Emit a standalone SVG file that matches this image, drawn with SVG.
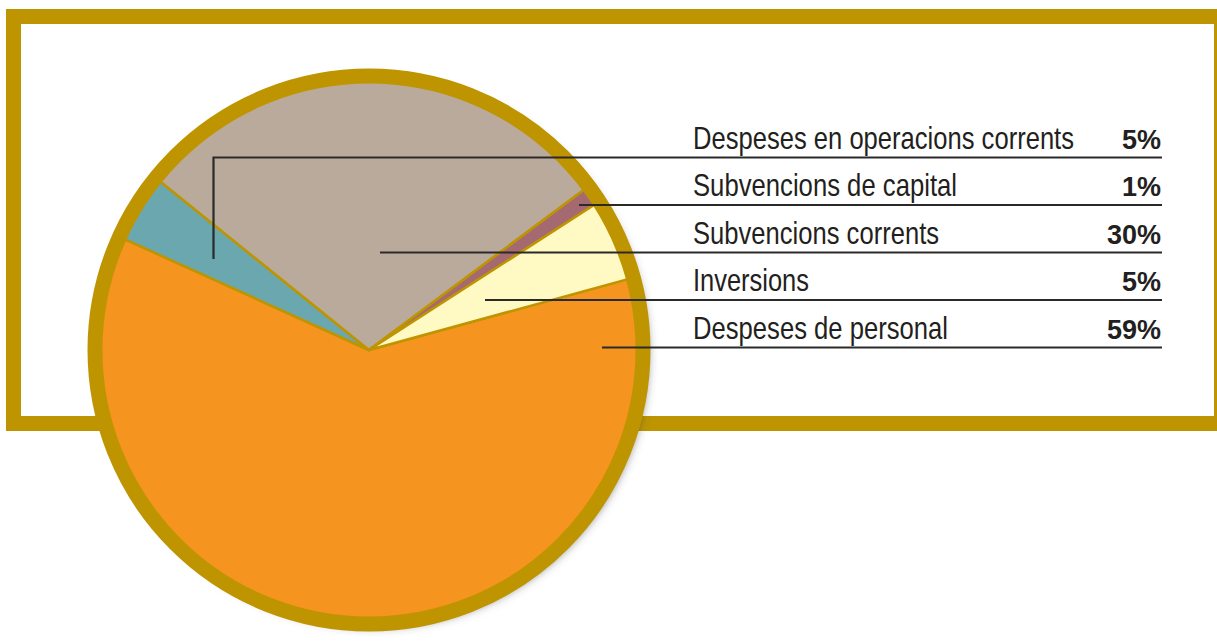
<svg xmlns="http://www.w3.org/2000/svg" width="1217" height="641" viewBox="0 0 1217 641">
<style>
.lbl{font-family:"Liberation Sans","Arial",sans-serif;font-size:30.5px;fill:#231f20;}
.pct{font-family:"Liberation Sans","Arial",sans-serif;font-size:27px;font-weight:bold;fill:#231f20;text-anchor:end;}
.sl{stroke:#BE9500;stroke-width:2.5;stroke-linejoin:round;}
.ld{fill:none;stroke:#2a2a2a;stroke-width:2.2;}
</style>
<defs>
<filter id="sh" x="-10%" y="-10%" width="130%" height="130%">
<feDropShadow dx="6" dy="4" stdDeviation="4" flood-color="#444" flood-opacity="0.55"/>
</filter>
</defs>
<rect width="1217" height="641" fill="#ffffff"/>
<g id="frame">
<path d="M6,9 H1230 V431 H6 Z M21,24 V416 H1214 V24 Z" fill="#BE9500" fill-rule="evenodd"/>
</g>
<g id="pie">
<circle cx="369" cy="350" r="274" fill="#BE9500" filter="url(#sh)"/>
<g id="slice-personal"><path class="sl" fill="#F5941E" d="M369,350 L634.3,277.4 A275,275 0 1 1 118.6,236.4 Z"/></g>
<g id="slice-operacions"><path class="sl" fill="#6AA7AE" d="M369,350 L118.6,236.4 A275,275 0 0 1 155.0,177.3 Z"/></g>
<g id="slice-subv-corrents"><path class="sl" fill="#BAAA9C" d="M369,350 L155.0,177.3 A275,275 0 0 1 589.5,185.7 Z"/></g>
<g id="slice-subv-capital"><path class="sl" fill="#A56A71" d="M369,350 L589.5,185.7 A275,275 0 0 1 600.2,201.0 Z"/></g>
<g id="slice-inversions"><path class="sl" fill="#FFF9C4" d="M369,350 L600.2,201.0 A275,275 0 0 1 634.3,277.4 Z"/></g>
<circle cx="369" cy="350" r="274" fill="none" stroke="#BE9500" stroke-width="15"/>
</g>
<g id="connectors">
<polyline class="ld" points="213.5,259 213.5,157.5 1162,157.5"/>
<line class="ld" x1="579" y1="205" x2="1162" y2="205"/>
<line class="ld" x1="380" y1="252.5" x2="1162" y2="252.5"/>
<line class="ld" x1="485" y1="300" x2="1162" y2="300"/>
<line class="ld" x1="602" y1="347.5" x2="1162" y2="347.5"/>
</g>
<g id="label-operacions">
<text class="lbl" transform="translate(693,148.5) scale(0.84,1)" x="0" y="0" textLength="453.6" lengthAdjust="spacingAndGlyphs">Despeses en operacions corrents</text>
<text class="pct" x="1161" y="148.5">5%</text>
</g>
<g id="label-subv-capital">
<text class="lbl" transform="translate(693,196) scale(0.84,1)" x="0" y="0" textLength="314.3" lengthAdjust="spacingAndGlyphs">Subvencions de capital</text>
<text class="pct" x="1161" y="196">1%</text>
</g>
<g id="label-subv-corrents">
<text class="lbl" transform="translate(693,243.5) scale(0.84,1)" x="0" y="0" textLength="292.9" lengthAdjust="spacingAndGlyphs">Subvencions corrents</text>
<text class="pct" x="1161" y="243.5">30%</text>
</g>
<g id="label-inversions">
<text class="lbl" transform="translate(693,291) scale(0.84,1)" x="0" y="0" textLength="138.1" lengthAdjust="spacingAndGlyphs">Inversions</text>
<text class="pct" x="1161" y="291">5%</text>
</g>
<g id="label-personal">
<text class="lbl" transform="translate(693,338.5) scale(0.84,1)" x="0" y="0" textLength="303.6" lengthAdjust="spacingAndGlyphs">Despeses de personal</text>
<text class="pct" x="1161" y="338.5">59%</text>
</g>
</svg>
